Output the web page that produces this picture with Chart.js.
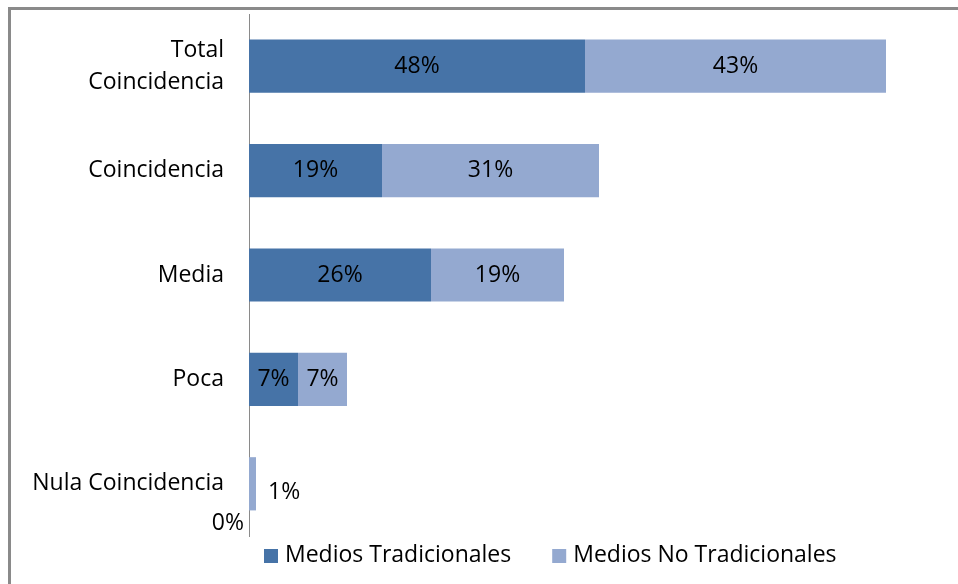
<!DOCTYPE html>
<html>
<head>
<meta charset="utf-8">
<script src="https://cdn.jsdelivr.net/npm/chart.js@4"></script>
<style>
  html, body { margin: 0; padding: 0; background: #fff; }
</style>
</head>
<body>
<canvas id="barChart" width="958" height="584"></canvas>
<script>
var categories = [['Total', 'Coincidencia'], 'Coincidencia', 'Media', 'Poca', 'Nula Coincidencia'];
var tradicionales = [48, 19, 26, 7, 0];
var noTradicionales = [43, 31, 19, 7, 1];
var seriesNames = ['Medios Tradicionales', 'Medios No Tradicionales'];
var seriesColors = ['#4673A7', '#94A9D0'];

var FONT = '"Open Sans", sans-serif';
var FONT_SIZE = 23;

// grey frame along the top and left edges
var frame = {
    id: 'frame',
    beforeDraw: function (chart) {
        var c = chart.ctx;
        c.save();
        c.strokeStyle = '#8a8a8a';
        c.lineWidth = 3;
        c.beginPath();
        c.moveTo(9.5, chart.height);
        c.lineTo(9.5, 8.5);
        c.lineTo(chart.width, 8.5);
        c.stroke();
        c.restore();
    }
};

// percent labels: inside the bar when they fit, right of it otherwise,
// zero values go under the axis base
var valueLabels = {
    id: 'valueLabels',
    afterDatasetsDraw: function (chart) {
        var c = chart.ctx;
        c.save();
        c.font = FONT_SIZE + 'px ' + FONT;
        c.fillStyle = '#000';
        c.textBaseline = 'middle';
        chart.data.datasets.forEach(function (ds, i) {
            chart.getDatasetMeta(i).data.forEach(function (bar, j) {
                var v = ds.data[j];
                var txt = v + '%';
                var w = c.measureText(txt).width;
                var left = Math.min(bar.base, bar.x);
                var width = Math.abs(bar.x - bar.base);
                if (v === 0) {
                    c.textAlign = 'right';
                    c.fillText(txt, bar.base - 5, bar.y + bar.height / 2 + 13);
                } else if (w + 4 < width) {
                    c.textAlign = 'center';
                    c.fillText(txt, left + width / 2, bar.y);
                } else {
                    c.textAlign = 'left';
                    c.fillText(txt, bar.x + 12, bar.y + 9);
                }
            });
        });
        c.restore();
    }
};

// legend row under the plot
var bottomLegend = {
    id: 'bottomLegend',
    afterDraw: function (chart) {
        var c = chart.ctx;
        var x = chart.chartArea.left + 15;
        var y = 555;
        c.save();
        c.font = FONT_SIZE + 'px ' + FONT;
        c.textBaseline = 'middle';
        c.textAlign = 'left';
        chart.data.datasets.forEach(function (ds) {
            c.fillStyle = ds.backgroundColor;
            c.fillRect(x, y - 6, 14, 14);
            c.fillStyle = '#000';
            c.fillText(ds.label, x + 21, y);
            x += 21 + c.measureText(ds.label).width + 41;
        });
        c.restore();
    }
};

var ctx = document.getElementById('barChart').getContext('2d');
var myChart = new Chart(ctx, {
    type: 'bar',
    data: {
        labels: categories,
        datasets: [{
            label: seriesNames[0],
            data: tradicionales,
            backgroundColor: seriesColors[0],
            categoryPercentage: 0.51,
            barPercentage: 1
        }, {
            label: seriesNames[1],
            data: noTradicionales,
            backgroundColor: seriesColors[1],
            categoryPercentage: 0.51,
            barPercentage: 1
        }]
    },
    options: {
        indexAxis: 'y',
        responsive: false,
        animation: false,
        layout: {
            padding: { top: 14, bottom: 48, left: 0, right: 9 }
        },
        plugins: {
            legend: { display: false },
            tooltip: { enabled: false }
        },
        scales: {
            x: {
                stacked: true,
                min: 0,
                max: 100,
                display: false
            },
            y: {
                stacked: true,
                grid: { display: false },
                border: { display: true, color: '#8a8a8a', width: 1 },
                ticks: {
                    color: '#000',
                    padding: 17,
                    font: { family: FONT, size: FONT_SIZE, lineHeight: 1.4 }
                },
                afterFit: function (scale) {
                    scale.width = 249;
                    scale.paddingTop = 0;
                    scale.paddingBottom = 0;
                }
            }
        }
    },
    plugins: [frame, valueLabels, bottomLegend]
});
</script>
</body>
</html>
